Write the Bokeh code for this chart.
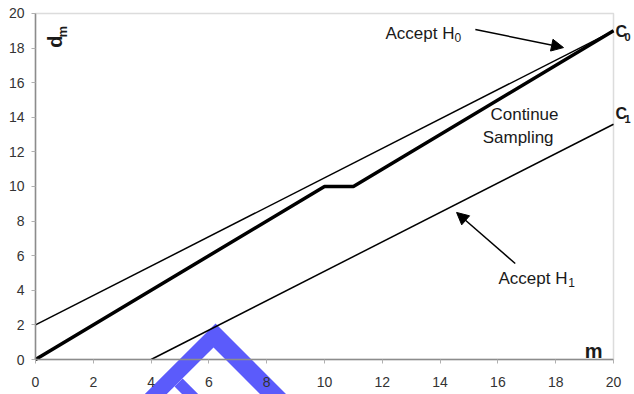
from bokeh.plotting import figure
from bokeh.models import Range1d, Label, Arrow, NormalHead, BoxAnnotation, FixedTicker
from bokeh.embed import file_html
from bokeh.resources import INLINE

# ---- data ----
m_path = [0, 10, 11, 20]
d_path = [0, 10, 10, 19]
h0_x = [0, 20]
h0_y = [2, 19]
h1_x = [4, 20]
h1_y = [0, 13.6]
ticks = list(range(0, 21, 2))

# decorative watermark chevron seen in the picture
wm1_x = [3.63, 6.23, 8.82, 7.92, 6.16, 4.39]
wm1_y = [-2.25, 2.08, -2.25, -2.25, 0.69, -2.25]
wm2_x = [5.09, 5.78, 5.22, 4.81, 4.39]
wm2_y = [-1.10, -2.25, -2.25, -1.56, -2.25]

FONT = "Liberation Sans"
GRAY = "#8c8c8c"

p = figure(width=634, height=394, output_backend="svg", toolbar_location=None,
           x_range=Range1d(-1.2111, 20.7266), y_range=Range1d(-2.0231, 20.7514),
           min_border_left=0, min_border_right=0, min_border_top=0, min_border_bottom=0)
p.background_fill_color = "white"
p.border_fill_color = "white"
p.outline_line_color = None
p.grid.visible = False

for ax in (p.xaxis[0], p.yaxis[0]):
    ax.ticker = FixedTicker(ticks=ticks)
    ax.fixed_location = 0
    ax.bounds = (0, 20)
    ax.axis_line_color = GRAY
    ax.axis_line_width = 1.5
    ax.major_tick_line_color = "#b0b0b0"
    ax.major_tick_in = 0
    ax.major_tick_out = 4
    ax.minor_tick_line_color = None
    ax.major_label_text_font = FONT
    ax.major_label_text_font_size = "14px"
    ax.major_label_text_color = "#333333"
p.xaxis.major_label_standoff = 13
p.yaxis.major_label_standoff = 7

p.add_layout(BoxAnnotation(left=0, right=20, bottom=0, top=20, fill_alpha=0,
                           line_color=GRAY, line_width=1.5, level="underlay"))

wm_color = "#5b5bfb"
p.patch(wm1_x, wm1_y, fill_color=wm_color, line_color=None)
p.patch(wm2_x, wm2_y, fill_color=wm_color, line_color=None)

p.line(h0_x, h0_y, line_color="black", line_width=1.5)
p.line(h1_x, h1_y, line_color="black", line_width=1.5)
p.line(m_path, d_path, line_color="black", line_width=3.5)

p.add_layout(Arrow(end=NormalHead(size=12, fill_color="black", line_color="black"),
                   x_start=15.22, y_start=19.08, x_end=18.27, y_end=18.03,
                   line_color="black", line_width=1.5))
p.add_layout(Arrow(end=NormalHead(size=12, fill_color="black", line_color="black"),
                   x_start=16.6, y_start=5.55, x_end=14.57, y_end=8.5,
                   line_color="black", line_width=1.5))

def lab(x, y, text, size="17px", style="normal", align="center", angle=0):
    p.add_layout(Label(x=x, y=y, text=text, text_font=FONT, text_font_size=size,
                       text_font_style=style, text_align=align, text_baseline="middle",
                       text_color="#1a1a1a", angle=angle))

lab(12.11, 18.84, "Accept H", align="left")
lab(14.50, 18.61, "0", size="12px", align="left")
lab(16.92, 14.16, "Continue")
lab(16.70, 12.83, "Sampling")
lab(16.02, 4.68, "Accept H", align="left")
lab(18.43, 4.45, "1", size="12px", align="left")
lab(20.07, 18.95, "C", size="16px", style="bold", align="left")
lab(20.38, 18.65, "0", size="11px", style="bold", align="left")
lab(20.07, 14.20, "C", size="16px", style="bold", align="left")
lab(20.38, 13.90, "1", size="11px", style="bold", align="left")
lab(19.31, 0.52, "m", size="20px", style="bold")
lab(0.69, 18.38, "d", size="20px", style="bold", angle=1.5708)
lab(0.95, 18.95, "m", size="13px", style="bold", angle=1.5708)

open("out.html", "w").write(file_html(p, INLINE))
